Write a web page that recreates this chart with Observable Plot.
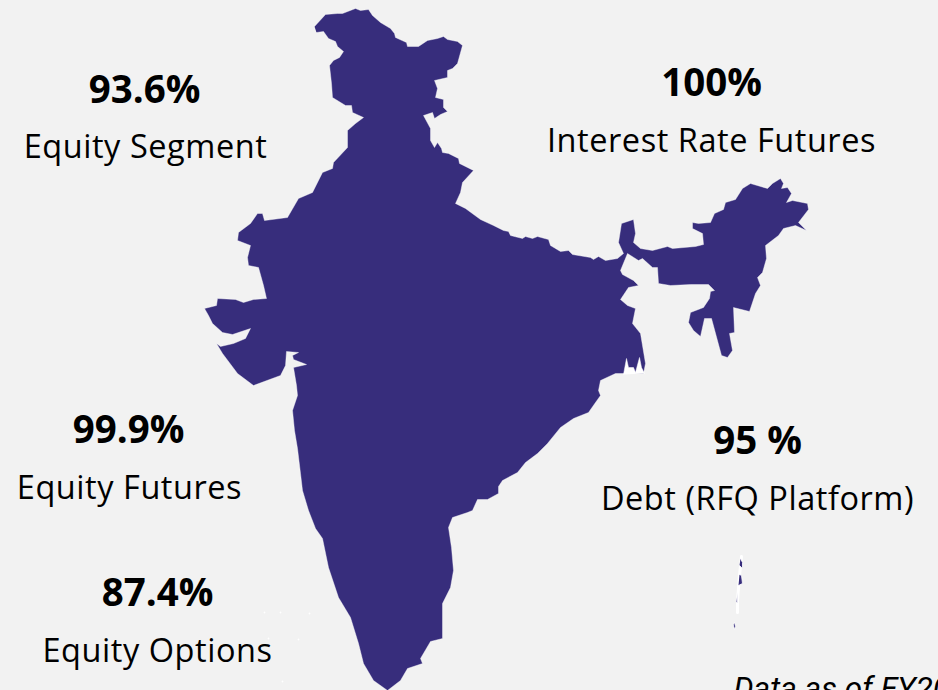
<!DOCTYPE html>
<html><head><meta charset="utf-8">
<script src="https://cdn.jsdelivr.net/npm/d3@7"></script>
<script src="https://cdn.jsdelivr.net/npm/@observablehq/plot@0.6"></script>
<style>html,body{margin:0;padding:0;background:#f2f2f2;overflow:hidden}svg{display:block}.seg text{letter-spacing:.55px}</style>
</head><body><div id="c"></div>
<script>
const mainland = [[314,26],[325,14],[337,13],[342,13],[355,8],[360,10],[368,9],[372,15],[380,22],[390,28],[394,33],[395,37],[406,42],[407,46],[418,46],[427,40],[437,38],[443,36],[447,39],[457,41],[462,45],[457,63],[452,68],[447,70],[447,77],[434,80],[437,88],[435,97],[443,99],[443,107],[447,111],[440,114],[434,118],[432,112],[423,115],[430,128],[430,140],[434,147],[437,142],[441,148],[442,152],[448,153],[458,158],[459,163],[473,170],[462,182],[460,192],[455,203],[465,208],[480,219],[493,225],[503,230],[508,231],[510,235],[522,238],[525,236],[532,238],[537,236],[548,239],[550,245],[560,251],[568,250],[572,254],[590,257],[593,259],[598,256],[605,260],[617,258],[623,253],[618,242],[621,223],[633,219],[635,233],[633,242],[640,248],[652,250],[667,246],[672,248],[695,246],[703,244],[702,233],[692,228],[692,222],[698,223],[710,222],[714,213],[723,209],[725,202],[735,199],[742,188],[750,183],[767,188],[772,183],[780,178],[783,183],[781,188],[787,187],[791,193],[786,202],[792,200],[807,203],[808,209],[798,222],[806,230],[795,225],[783,228],[778,235],[765,245],[766,258],[762,272],[757,277],[760,285],[755,293],[749,311],[733,307],[734,332],[729,333],[732,350],[727,357],[721,355],[711,318],[704,318],[700,336],[693,330],[688,322],[690,312],[703,307],[709,298],[710,291],[714,290],[708,284],[690,284],[670,285],[658,283],[657,267],[652,267],[642,258],[638,260],[627,253],[620,270],[622,274],[633,280],[638,285],[628,287],[620,299],[627,305],[635,308],[632,323],[640,333],[645,363],[643,373],[623,373],[615,373],[600,380],[598,390],[600,395],[595,402],[588,412],[573,418],[560,427],[547,443],[537,453],[525,462],[517,472],[502,480],[498,486],[498,493],[487,499],[477,499],[472,510],[467,512],[452,517],[448,527],[451,547],[453,570],[450,587],[442,603],[442,638],[430,641],[420,658],[422,663],[407,668],[400,680],[387,690],[373,680],[363,663],[358,643],[350,617],[338,597],[328,567],[322,538],[315,528],[308,510],[302,490],[300,473],[297,448],[294,430],[292,410],[297,395],[296,385],[293,367],[306,364],[293,359],[292,355],[298,352],[286,351],[285,365],[280,375],[253,385],[237,373],[222,353],[216,343],[220,346],[233,343],[245,338],[250,328],[232,334],[222,332],[212,323],[208,315],[204,308],[216,305],[217,298],[235,299],[243,302],[253,299],[266,298],[263,285],[258,267],[248,265],[247,257],[250,245],[237,240],[238,232],[250,223],[257,213],[262,213],[264,220],[287,217],[298,198],[312,192],[322,172],[332,168],[333,162],[347,147],[347,130],[355,123],[363,117],[352,112],[351,105],[345,105],[332,97],[331,83],[329,65],[333,60],[339,57],[343,51],[337,46],[335,41],[328,38],[323,31],[316,32]];
const andamanNorth = [[740,558],[742,562],[742,568],[739,565]];
const andamanMid = [[739,574],[741,575],[742,583],[738,585]];
const andamanSouth = [[737,592],[737,602],[736,602]];
const nicobar = [[734,622],[735,626],[734,629],[733,625]];
const andamanHalo = [[741,556],[739,575],[737,600],[737,612]];
const sundarbans = [[623,374],[626,358],[628,367],[633,367],[635,372],[639,357],[641,367],[644,373]];
const values = ["93.6%","100%","99.9%","95 %","87.4%"];
const segments = ["Equity Segment","Interest Rate Futures","Equity Futures","Debt (RFQ Platform)","Equity Options"];
const valueX = [144,711,128,757,157];
const valueY = [90,83,430,441,593];
const segmentX = [145,711,129,757,157];
const segmentY = [147,141,488,499,651];
const specks = [[264,612],[280,612],[309,613],[268,638],[298,639],[282,681]];
const note = "Data as of FY2025";
const xy = {x:d=>d[0], y:d=>d[1]};
const chart = Plot.plot({
  width:938,height:690,margin:0,
  style:{background:"#f2f2f2"},
  x:{domain:[0,938],range:[0,938],axis:null},
  y:{domain:[0,690],range:[0,690],axis:null},
  marks:[
    Plot.line(mainland,{...xy,fill:"#372d7c",stroke:"#fff",strokeWidth:0.4}),
    Plot.line(sundarbans,{...xy,fill:"#fff",stroke:"#fff",strokeWidth:0.5}),
    Plot.line(andamanHalo,{...xy,stroke:"#fff",strokeWidth:3}),
    ...[andamanNorth,andamanMid,andamanSouth,nicobar].map(p=>Plot.line(p,{...xy,fill:"#372d7c",stroke:"#fff",strokeWidth:0.8})),
    Plot.dot(specks,{...xy,r:0.9,fill:"#fff"}),
    Plot.text(values,{x:(d,i)=>valueX[i],y:(d,i)=>valueY[i],text:d=>d,fontFamily:"Open Sans",fontWeight:700,fontSize:38.5,fill:"#000"}),
    Plot.text(segments,{x:(d,i)=>segmentX[i],y:(d,i)=>segmentY[i],text:d=>d,fontFamily:"Open Sans",fontSize:32.5,fill:"#000",className:"seg"}),
    Plot.text([note],{x:[733],y:[688],text:d=>d,textAnchor:"start",fontFamily:"Roboto",fontStyle:"italic",fontSize:31.5,fill:"#000"})
  ]
});
document.getElementById("c").appendChild(chart);
</script></body></html>
